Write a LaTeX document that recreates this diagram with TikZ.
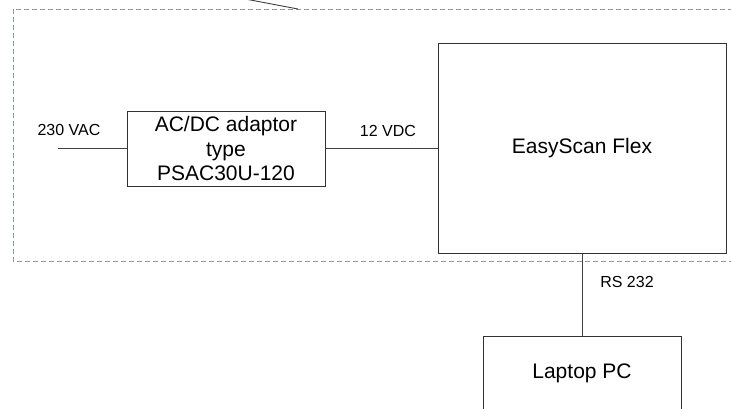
\documentclass[tikz,border=0pt]{standalone}
\usepackage{fontspec}
\setmainfont{Liberation Sans}
\usepackage{xcolor}
\usetikzlibrary{positioning}

\definecolor{frameline}{RGB}{135,158,145}

\begin{document}
\begin{tikzpicture}[
  x=1pt, y=-1pt,
  unit/.style={draw=black!80, line width=1pt, rectangle, align=center,
    font=\fontsize{21}{24.5}\selectfont, inner sep=0pt},
  wire/.style={draw=black!75, line width=0.9pt},
  tag/.style={font=\fontsize{16}{18}\selectfont, inner sep=0pt},
  frame/.style={draw=frameline, line width=0.9pt, dash pattern=on 5pt off 3pt}
]
\useasboundingbox (0,0) rectangle (731,408);
\clip (0,0) rectangle (731,408);

% enclosure of the scanner set
\draw[frame] (13,9) rectangle (745,261);

\node[unit, minimum width=198pt, minimum height=75pt] (adaptor) at (226,148.5)
  {AC/DC adaptor\\type\\PSAC30U-120};
\node[unit, minimum width=288pt, minimum height=210pt] (scanner) at (582,148)
  {EasyScan Flex};
\node[unit, minimum width=198pt, minimum height=74pt] (laptop) at (582,373)
  {Laptop PC};

\coordinate (mains) at (58,148.5);
\coordinate (feedA) at (240,-2);
\coordinate (feedB) at (298,9);

\draw[wire] (mains) -- (adaptor.west);
\draw[wire] (adaptor.east) -- (adaptor.east -| scanner.west);
\draw[wire] (scanner.south) -- (laptop.north);
\draw[wire] (feedA) -- (feedB);

\node[tag] (lblac) at (69,130) {230 VAC};
\node[tag] (lbldc) at (388,131) {12 VDC};
\node[tag] (lblrs) at (627,282) {RS 232};
\end{tikzpicture}
\end{document}
